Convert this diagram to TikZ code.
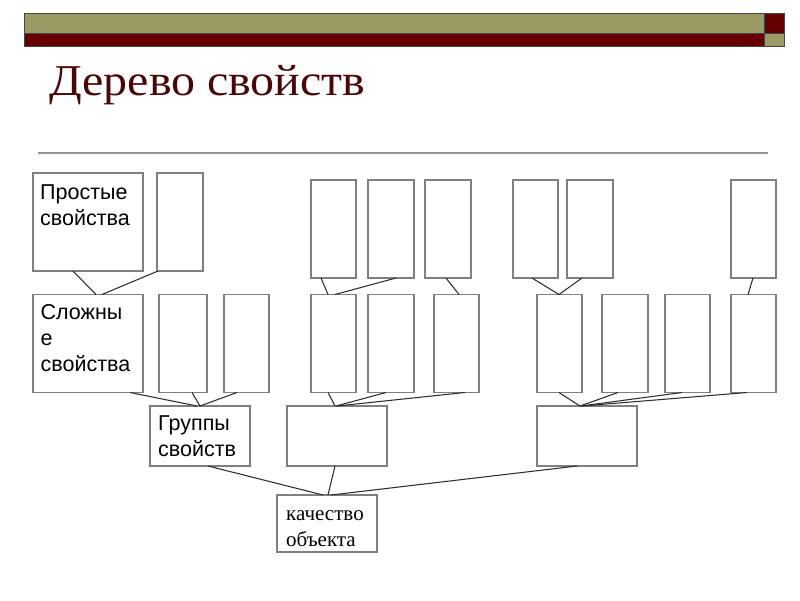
\documentclass[tikz,border=0pt]{standalone}
\usepackage{fontspec}
\setmainfont{Liberation Serif}
\newfontfamily\arialf{Liberation Sans}
\usetikzlibrary{calc}
\definecolor{olivebar}{RGB}{156,154,100}
\definecolor{redbar}{RGB}{102,0,0}
\definecolor{titlered}{RGB}{72,8,8}
\definecolor{boxgray}{RGB}{128,128,128}
\definecolor{linegray}{RGB}{45,45,45}
\definecolor{barline}{RGB}{70,70,70}
\begin{document}
\begin{tikzpicture}[x=1pt,y=-1pt,
  box/.style 2 args={draw=boxgray, line width=1.1pt, fill=white, inner sep=0pt, outer sep=0pt,
     anchor=north west, minimum width=#1pt, minimum height=#2pt},
  conn/.style={draw=linegray, line width=1.05pt},
  sanslbl/.style={anchor=north west, inner sep=0pt, align=left,
     font=\arialf\fontsize{21.5}{25.8}\selectfont},
  seriflbl/.style={anchor=north west, inner sep=0pt, align=left,
     font=\fontsize{21}{26}\selectfont},
  bar/.style={draw=barline, line width=0.6pt}
]
\useasboundingbox (0,0) rectangle (800,600);
\fill[white] (0,0) rectangle (800,600);

% top bar
\filldraw[bar, fill=olivebar] (24.5,13) rectangle (764,33);
\filldraw[bar, fill=redbar] (24.5,33) rectangle (764,46);
\filldraw[bar, fill=redbar] (764,13) rectangle (784,33);
\filldraw[bar, fill=olivebar] (764,33) rectangle (784,46);

% title
\node[anchor=base west, inner sep=0pt, text=titlered, font=\fontsize{44}{48}\selectfont] (title) at (49,95) {\scalebox{1.09}[1]{Дерево свойств}};
\draw[draw=gray!85, line width=1.8pt] (38,153) -- (768,153);

% row 1
\node[box={110}{98}] (P1) at (33,173) {};
\node[box={46}{98}] (P2) at (157,173) {};
\node[box={45}{98}] (A) at (311,180) {};
\node[box={46}{98}] (B) at (368,180) {};
\node[box={46}{98}] (C) at (425,180) {};
\node[box={45}{98}] (G) at (513,180) {};
\node[box={46}{98}] (H) at (567,180) {};
\node[box={45}{98}] (I) at (731,180) {};

% row 2
\node[box={110}{98}] (S1) at (33,294.5) {};
\node[box={48}{98}] (S2) at (159,294.5) {};
\node[box={45}{98}] (S3) at (224,294.5) {};
\node[box={45}{98}] (D) at (311,294.5) {};
\node[box={46}{98}] (E) at (368,294.5) {};
\node[box={45}{98}] (F) at (434,294.5) {};
\node[box={45}{98}] (J) at (537,294.5) {};
\node[box={46}{98}] (K) at (602,294.5) {};
\node[box={45}{98}] (L) at (665,294.5) {};
\node[box={45}{98}] (M) at (731,294.5) {};

% row 3
\node[box={100}{60}] (G1) at (150,406) {};
\node[box={100}{60}] (G2) at (287,406) {};
\node[box={100}{60}] (G3) at (537,406) {};

% row 4
\node[box={100}{57}] (Q) at (277,495) {};

% labels
\node[sanslbl] (tP1) at ([xshift=7pt,yshift=-8.5pt]P1.north west) {\strut Простые\\свойства};
\node[sanslbl] (tS1) at ([xshift=7.5pt,yshift=-7pt]S1.north west) {\strut Сложны\\е\\свойства};
\node[sanslbl] (tG1) at ([xshift=8pt,yshift=-6.5pt]G1.north west) {\strut Группы\\свойств};
\node[seriflbl] (tQ) at ([xshift=9pt,yshift=-7pt]Q.north west) {\strut качество\\объекта};

% connectors row1 -> row2
\draw[conn] ([xshift=40pt]P1.south west) -- ([xshift=63pt]S1.north west);
\draw[conn] ([xshift=1pt]P2.south west) -- ([xshift=69pt]S1.north west);
\draw[conn] ([xshift=10pt]A.south west) -- ([xshift=17pt]D.north west);
\draw[conn] ([xshift=28pt]B.south west) -- ([xshift=24pt]D.north west);
\draw[conn] ([xshift=21pt]C.south west) -- ([xshift=25pt]F.north west);
\draw[conn] ([xshift=19pt]G.south west) -- ([xshift=22pt]J.north west);
\draw[conn] ([xshift=15pt]H.south west) -- ([xshift=22pt]J.north west);
\draw[conn] ([xshift=22pt]I.south west) -- ([xshift=17pt]M.north west);

% row2 -> row3
\draw[conn] ([xshift=97pt]S1.south west) -- ([xshift=47pt]G1.north west);
\draw[conn] ([xshift=33pt]S2.south west) -- ([xshift=50pt]G1.north west);
\draw[conn] ([xshift=13pt]S3.south west) -- ([xshift=50pt]G1.north west);
\draw[conn] ([xshift=17pt]D.south west) -- ([xshift=48pt]G2.north west);
\draw[conn] ([xshift=18pt]E.south west) -- ([xshift=49pt]G2.north west);
\draw[conn] ([xshift=31pt]F.south west) -- ([xshift=50pt]G2.north west);
\draw[conn] ([xshift=22pt]J.south west) -- ([xshift=43pt]G3.north west);
\draw[conn] ([xshift=16pt]K.south west) -- ([xshift=43pt]G3.north west);
\draw[conn] ([xshift=17pt]L.south west) -- ([xshift=44pt]G3.north west);
\draw[conn] ([xshift=16pt]M.south west) -- ([xshift=45pt]G3.north west);

% row3 -> row4
\draw[conn] ([xshift=58pt]G1.south west) -- ([xshift=46pt]Q.north west);
\draw[conn] ([xshift=48pt]G2.south west) -- ([xshift=51pt]Q.north west);
\draw[conn] ([xshift=40pt]G3.south west) -- ([xshift=54pt]Q.north west);
\end{tikzpicture}
\end{document}
